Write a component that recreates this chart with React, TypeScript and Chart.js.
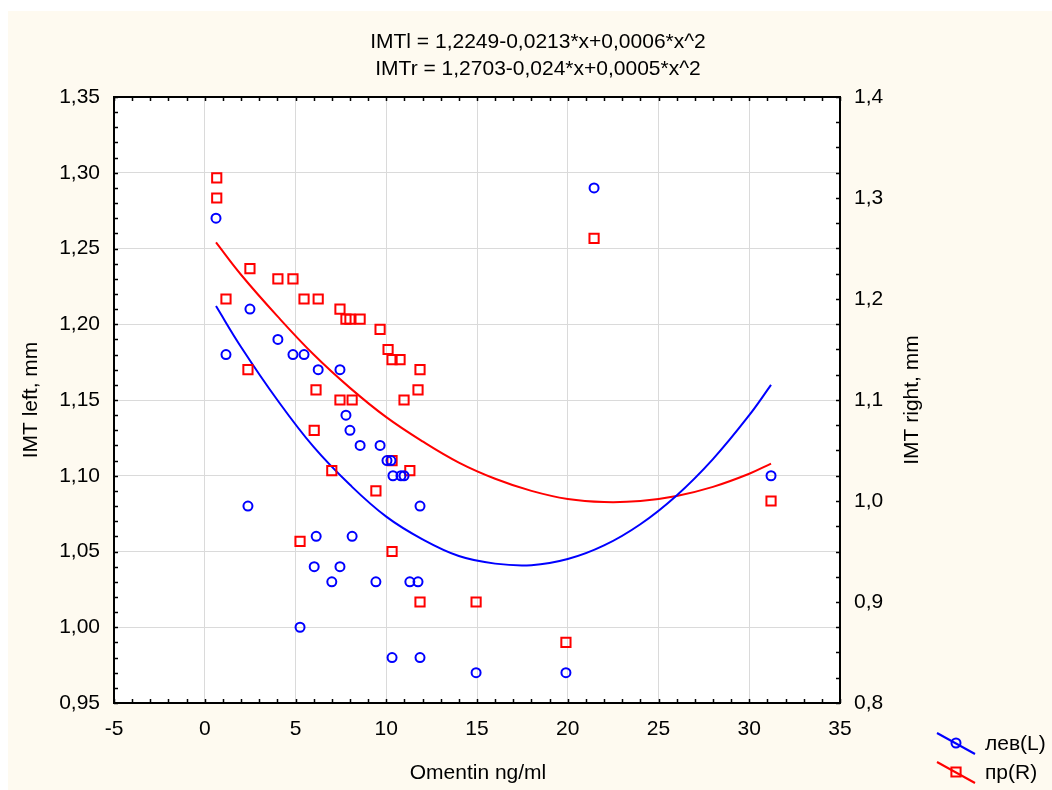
import React, { useEffect, useRef } from 'react';
import { Chart, registerables } from 'chart.js';
Chart.register(...registerables);

// ---- data ----
const omentinLeft = [0.62, 1.17, 2.49, 2.38, 4.03, 4.86, 5.47, 6.25, 7.45, 7.78, 8.0, 8.56, 9.66, 10.04, 10.26, 10.37, 10.81, 10.98, 11.86, 6.14, 8.12, 6.03, 7.45, 7.0, 9.43, 11.3, 11.75, 5.25, 10.32, 11.86, 14.95, 19.9, 21.45, 31.2];
const imtLeft = [1.27, 1.18, 1.21, 1.08, 1.19, 1.18, 1.18, 1.17, 1.17, 1.14, 1.13, 1.12, 1.12, 1.11, 1.11, 1.10, 1.10, 1.10, 1.08, 1.06, 1.06, 1.04, 1.04, 1.03, 1.03, 1.03, 1.03, 1.00, 0.98, 0.98, 0.97, 0.97, 1.29, 1.10];

const omentinRight = [0.66, 0.66, 1.17, 2.49, 2.38, 4.03, 4.86, 5.47, 6.25, 7.45, 7.78, 8.0, 8.56, 9.66, 10.1, 10.32, 10.76, 11.86, 11.75, 6.13, 7.45, 8.12, 10.98, 6.03, 7.0, 10.32, 11.3, 9.43, 5.25, 10.32, 11.86, 14.95, 19.9, 21.45, 31.2];
const imtRight = [1.32, 1.30, 1.20, 1.23, 1.13, 1.22, 1.22, 1.20, 1.20, 1.19, 1.18, 1.18, 1.18, 1.17, 1.15, 1.14, 1.14, 1.13, 1.11, 1.11, 1.10, 1.10, 1.10, 1.07, 1.03, 1.04, 1.03, 1.01, 0.96, 0.95, 0.90, 0.90, 0.86, 1.26, 1.00];

// fitted curves
const fitX = [0.62, 2, 4, 6, 8, 10, 12, 14, 16, 18, 20, 22, 24, 26, 28, 30, 31.2];
const fitLeft = [1.212, 1.185, 1.150, 1.119, 1.094, 1.073, 1.058, 1.047, 1.042, 1.041, 1.045, 1.054, 1.068, 1.087, 1.111, 1.140, 1.160];
const fitRight = [1.256, 1.224, 1.183, 1.145, 1.112, 1.083, 1.059, 1.038, 1.022, 1.010, 1.002, 0.999, 1.000, 1.005, 1.014, 1.027, 1.037];

const seriesLabels = ['лев(L)', 'пр(R)'];
const titleLines = ['IMTl = 1,2249-0,0213*x+0,0006*x^2', 'IMTr = 1,2703-0,024*x+0,0005*x^2'];
const xTitle = 'Omentin ng/ml';
const yLeftTitle = 'IMT left, mm';
const yRightTitle = 'IMT right, mm';

const xRange = [-5, 35, 5, 1]; // min, max, major step, minor step
const yLeftRange = [0.95, 1.35, 0.05, 0.01];
const yRightRange = [0.8, 1.4, 0.1, 0.025];

// ---- styling ----
const FONT = '"Liberation Sans", Arial, sans-serif';
const FS = 21;
const BLUE = '#0000ff';
const RED = '#ff0000';
const CREAM = 'rgb(254,250,240)';
const GRID = 'rgb(218,218,218)';
const OX = 8;
const OY = 11;

const toPts = (xs: number[], ys: number[]) => xs.map((x, i) => ({ x, y: ys[i] }));

const bgPlugin = {
  id: 'bg',
  beforeDraw(chart: any) {
    const { ctx, chartArea: a } = chart;
    ctx.save();
    ctx.fillStyle = CREAM;
    ctx.fillRect(0, 0, chart.width, chart.height);
    ctx.fillStyle = '#ffffff';
    ctx.fillRect(a.left, a.top, a.right - a.left, a.bottom - a.top);
    ctx.restore();
  },
};

const decorPlugin = {
  id: 'decor',
  afterDraw(chart: any) {
    const { ctx, chartArea: a, scales } = chart;
    ctx.save();
    ctx.strokeStyle = '#000';
    ctx.lineWidth = 1.5;
    const TL = 4;
    ctx.beginPath();
    for (let v = xRange[0]; v <= xRange[1] + 1e-9; v += xRange[3]) {
      const p = Math.round(scales.x.getPixelForValue(v)) + 0.5;
      ctx.moveTo(p, a.bottom); ctx.lineTo(p, a.bottom - TL);
      ctx.moveTo(p, a.top); ctx.lineTo(p, a.top + TL);
    }
    const nL = Math.round((yLeftRange[1] - yLeftRange[0]) / yLeftRange[3]);
    for (let i = 0; i <= nL; i++) {
      const p = Math.round(scales.y.getPixelForValue(yLeftRange[0] + i * yLeftRange[3])) + 0.5;
      ctx.moveTo(a.left, p); ctx.lineTo(a.left + TL, p);
    }
    const nR = Math.round((yRightRange[1] - yRightRange[0]) / yRightRange[3]);
    for (let i = 0; i <= nR; i++) {
      const p = Math.round(scales.y1.getPixelForValue(yRightRange[0] + i * yRightRange[3])) + 0.5;
      ctx.moveTo(a.right, p); ctx.lineTo(a.right - TL, p);
    }
    ctx.stroke();
    ctx.lineWidth = 2;
    ctx.strokeRect(a.left, a.top, a.right - a.left, a.bottom - a.top);

    ctx.fillStyle = '#000';
    ctx.font = `${FS}px ${FONT}`;
    ctx.textAlign = 'center';
    ctx.textBaseline = 'middle';
    ctx.fillText(titleLines[0], 538 - OX, 42 - OY);
    ctx.fillText(titleLines[1], 538 - OX, 69 - OY);
    ctx.fillText(xTitle, 478 - OX, 773 - OY);
    ctx.save();
    ctx.translate(31 - OX, 400 - OY);
    ctx.rotate(-Math.PI / 2);
    ctx.fillText(yLeftTitle, 0, 0);
    ctx.restore();
    ctx.save();
    ctx.translate(912 - OX, 400 - OY);
    ctx.rotate(-Math.PI / 2);
    ctx.fillText(yRightTitle, 0, 0);
    ctx.restore();

    const items = [
      { color: BLUE, style: 'circle', y: 743 },
      { color: RED, style: 'rect', y: 772 },
    ];
    items.forEach((it, i) => {
      const cy = it.y - OY;
      const cx = 956 - OX;
      ctx.strokeStyle = it.color;
      ctx.lineWidth = 2;
      ctx.beginPath();
      ctx.moveTo(cx - 19, cy - 10);
      ctx.lineTo(cx + 19, cy + 11);
      ctx.stroke();
      ctx.beginPath();
      if (it.style === 'circle') {
        ctx.arc(cx, cy, 4.5, 0, Math.PI * 2);
      } else {
        ctx.rect(cx - 4.6, cy - 4.6, 9.2, 9.2);
      }
      ctx.stroke();
      ctx.fillStyle = '#000';
      ctx.textAlign = 'left';
      ctx.fillText(chart.data.datasets[i].label, 985 - OX, cy + 1);
    });
    ctx.restore();
  },
};

export default function App() {
  const ref = useRef<HTMLCanvasElement>(null);
  useEffect(() => {
    const tickFont = { family: FONT, size: FS };
    const chart = new Chart(ref.current as HTMLCanvasElement, {
      type: 'scatter',
      data: {
        datasets: [
          {
            label: seriesLabels[0],
            data: toPts(omentinLeft, imtLeft),
            yAxisID: 'y',
            pointStyle: 'circle',
            pointRadius: 4.5,
            pointBorderWidth: 2,
            pointBorderColor: BLUE,
            pointBackgroundColor: 'rgba(0,0,0,0)',
            showLine: false,
          },
          {
            label: seriesLabels[1],
            data: toPts(omentinRight, imtRight),
            yAxisID: 'y1',
            pointStyle: 'rect',
            pointRadius: 6.5,
            pointBorderWidth: 2,
            pointBorderColor: RED,
            pointBackgroundColor: 'rgba(0,0,0,0)',
            showLine: false,
          },
          {
            label: 'fitL',
            data: toPts(fitX, fitLeft),
            yAxisID: 'y',
            showLine: true,
            pointRadius: 0,
            borderColor: BLUE,
            borderWidth: 2,
            fill: false,
            tension: 0.4,
          },
          {
            label: 'fitR',
            data: toPts(fitX, fitRight),
            yAxisID: 'y1',
            showLine: true,
            pointRadius: 0,
            borderColor: RED,
            borderWidth: 2,
            fill: false,
            tension: 0.4,
          },
        ] as any,
      },
      options: {
        responsive: false,
        animation: false,
        devicePixelRatio: 1,
        layout: { padding: { top: 86, left: 0, right: 0, bottom: 0 } },
        plugins: { legend: { display: false }, tooltip: { enabled: false }, title: { display: false } },
        scales: {
          x: {
            type: 'linear',
            position: 'bottom',
            min: xRange[0],
            max: xRange[1],
            ticks: { stepSize: xRange[2], padding: 14, color: '#000', font: tickFont, callback: (v: any) => String(v), maxRotation: 0 },
            grid: { color: GRID, lineWidth: 1, drawTicks: false },
            border: { display: false },
            afterFit: (s: any) => { s.height = 87; },
          },
          y: {
            type: 'linear',
            position: 'left',
            min: yLeftRange[0],
            max: yLeftRange[1],
            ticks: { stepSize: yLeftRange[2], padding: 14, color: '#000', font: tickFont, callback: (v: any) => Number(v).toFixed(2).replace('.', ',') },
            grid: { color: GRID, lineWidth: 1, drawTicks: false },
            border: { display: false },
            afterFit: (s: any) => { s.width = 106; },
          },
          y1: {
            type: 'linear',
            position: 'right',
            min: yRightRange[0],
            max: yRightRange[1],
            ticks: { stepSize: yRightRange[2], padding: 14, color: '#000', font: tickFont, callback: (v: any) => Number(v).toFixed(1).replace('.', ',') },
            grid: { display: false, drawTicks: false },
            border: { display: false },
            afterFit: (s: any) => { s.width = 212; },
          },
        },
      } as any,
      plugins: [bgPlugin, decorPlugin],
    });
    return () => chart.destroy();
  }, []);
  return (
    <div style={{ position: 'fixed', left: OX, top: OY, width: 1044, height: 779 }}>
      <canvas ref={ref} width={1044} height={779} style={{ display: 'block', width: 1044, height: 779 }} />
    </div>
  );
}
